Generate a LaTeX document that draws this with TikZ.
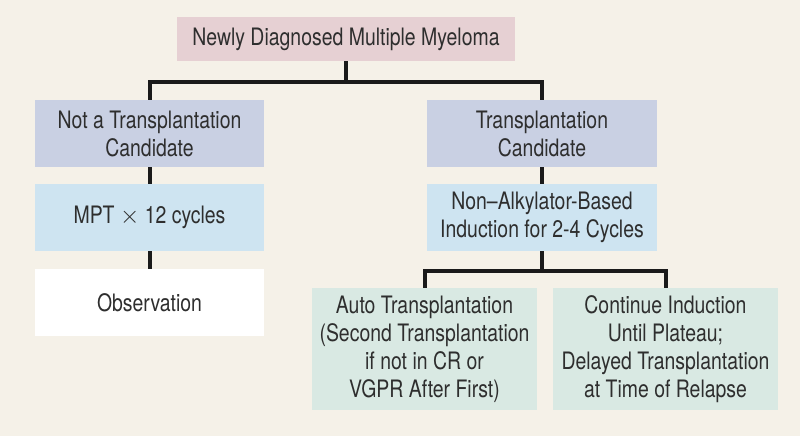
\documentclass[tikz,border=0pt]{standalone}
\usepackage{fontspec}
\setmainfont{TeX Gyre Heros}[FakeStretch=0.81]
\definecolor{bg}{HTML}{F5F1E8}
\definecolor{pinkbox}{HTML}{E6D0D3}
\definecolor{lavbox}{HTML}{C9D0E3}
\definecolor{bluebox}{HTML}{CEE4F1}
\definecolor{mintbox}{HTML}{D9E9E3}
\definecolor{txt}{HTML}{2E2E2E}
\definecolor{lin}{HTML}{1A1A1A}
\begin{document}
\begin{tikzpicture}[x=1pt,y=-1pt,
  box/.style={rectangle, inner sep=0pt, align=center, text=txt,
    font=\fontsize{24}{28}\selectfont},
  conn/.style={draw=lin, line width=4pt, line join=miter}]
\fill[bg] (0,0) rectangle (800,436);
\useasboundingbox (0,0) rectangle (800,436);
\node[box, fill=pinkbox, minimum width=338pt, minimum height=44pt] (top) at (346,39) {Newly Diagnosed Multiple Myeloma};
\node[box, fill=lavbox, minimum width=229pt, minimum height=67pt] (notc) at (149.5,133.5) {Not a Transplantation\\Candidate};
\node[box, fill=lavbox, minimum width=230pt, minimum height=67pt] (cand) at (542,133.5) {Transplantation\\Candidate};
\node[box, fill=bluebox, minimum width=229pt, minimum height=67pt] (mpt) at (149.5,217.5) {MPT $\times$ 12 cycles};
\node[box, fill=bluebox, minimum width=230pt, minimum height=67pt] (ind) at (542,217.5) {Non--Alkylator-Based\\Induction for 2-4 Cycles};
\node[box, fill=white, minimum width=229pt, minimum height=67pt] (obs) at (149.5,302.5) {Observation};
\node[box, fill=mintbox, minimum width=225pt, minimum height=122pt] (auto) at (424.5,349) {Auto Transplantation\\(Second Transplantation\\if not in CR or\\VGPR After First)};
\node[box, fill=mintbox, minimum width=225pt, minimum height=122pt] (cont) at (665.5,349) {Continue Induction\\Until Plateau;\\Delayed Transplantation\\at Time of Relapse};
\coordinate (j1) at (346,82);
\coordinate (j2) at (542,271);
\draw[conn] (top.south) -- (j1);
\draw[conn] (notc.north) -- (notc.north |- j1) -- (cand.north |- j1) -- (cand.north);
\draw[conn] (notc.south) -- (mpt.north);
\draw[conn] (mpt.south) -- (obs.north);
\draw[conn] (cand.south) -- (ind.north);
\draw[conn] (ind.south) -- (j2);
\draw[conn] (auto.north) -- (auto.north |- j2) -- (cont.north |- j2) -- (cont.north);
\end{tikzpicture}
\end{document}
